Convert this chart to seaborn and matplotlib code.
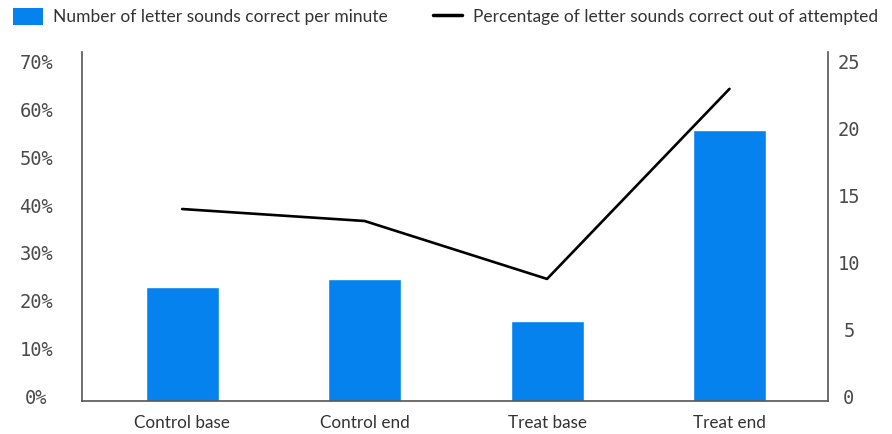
import matplotlib
matplotlib.use('Agg')
import pandas as pd
import matplotlib.pyplot as plt
import matplotlib.transforms as mtransforms
from matplotlib.patches import Patch
from matplotlib.lines import Line2D
from matplotlib.ticker import PercentFormatter
import seaborn as sns

# data
groups = ["Control base", "Control end", "Treat base", "Treat end"]
sounds_per_min = [8.5, 9.1, 6.0, 20.2]
pct_correct = [0.401, 0.376, 0.255, 0.652]

BLUE = "#0582EE"
TXT = "#333333"
SPINE = "#555555"

df = pd.DataFrame({"group": groups, "cpm": sounds_per_min, "pct": pct_correct})

sns.set_style("white")
plt.rcParams['font.family'] = ['Lato', 'DejaVu Sans']

fig = plt.figure(figsize=(8.92, 4.34), dpi=100)
ax_bar = fig.add_axes([82/892, 1 - 401/434, (828-82)/892, (401-52)/434])
ax_line = ax_bar.twinx()

sns.barplot(data=df, x="group", y="cpm", color=BLUE, width=0.4,
            saturation=1, ax=ax_bar)
sns.lineplot(data=df, x="group", y="pct", color="black", linewidth=1.9,
             sort=False, ax=ax_line)

ax_bar.set_xlim(-0.549, 3.54)
ax_bar.set_ylim(0, 26.04)
ax_line.set_ylim(0, 0.729)
ax_bar.set_yticks([0, 5, 10, 15, 20, 25])
ax_line.set_yticks([0, .1, .2, .3, .4, .5, .6, .7])
ax_line.yaxis.set_major_formatter(PercentFormatter(1, decimals=0))

# bars' count axis on the right, percent axis on the left
ax_bar.yaxis.tick_right()
ax_line.yaxis.tick_left()
for a in (ax_bar, ax_line):
    a.set_xlabel("")
    a.set_ylabel("")
    for s in a.spines.values():
        s.set_visible(False)
ax_bar.spines['right'].set_visible(True)
ax_bar.spines['bottom'].set_visible(True)
ax_line.spines['left'].set_visible(True)
for s in (ax_bar.spines['right'], ax_bar.spines['bottom'], ax_line.spines['left']):
    s.set_color(SPINE)
    s.set_linewidth(1.2)

ax_bar.tick_params(axis='x', length=0, pad=9.8, labelsize=12.3, labelcolor=TXT)
ax_bar.tick_params(axis='y', length=0, pad=15, labelsize=13.5, labelcolor="#4a4a4a")
ax_line.tick_params(axis='y', length=0, pad=33, labelsize=13.5, labelcolor="#4a4a4a")

lift = mtransforms.ScaledTranslation(0, 4.5/100, fig.dpi_scale_trans)
for a in (ax_bar, ax_line):
    for lab in a.get_yticklabels():
        lab.set_fontfamily('DejaVu Sans Mono')
        lab.set_horizontalalignment('center')
        lab.set_transform(lab.get_transform() + lift)

handles = [Patch(facecolor=BLUE, edgecolor='none'),
           Line2D([], [], color='black', linewidth=2.5)]
labels = ["Number of letter sounds correct per minute",
          "Percentage of letter sounds correct out of attempted"]
fig.legend(handles, labels, loc='upper left', bbox_to_anchor=(13/892, 1 - 8/434),
           ncol=2, frameon=False, fontsize=12.5, labelcolor=TXT,
           handlelength=1.7, handleheight=1.1, handletextpad=0.6,
           columnspacing=2.6, borderpad=0, borderaxespad=0)

fig.savefig("out.png", dpi=100)
